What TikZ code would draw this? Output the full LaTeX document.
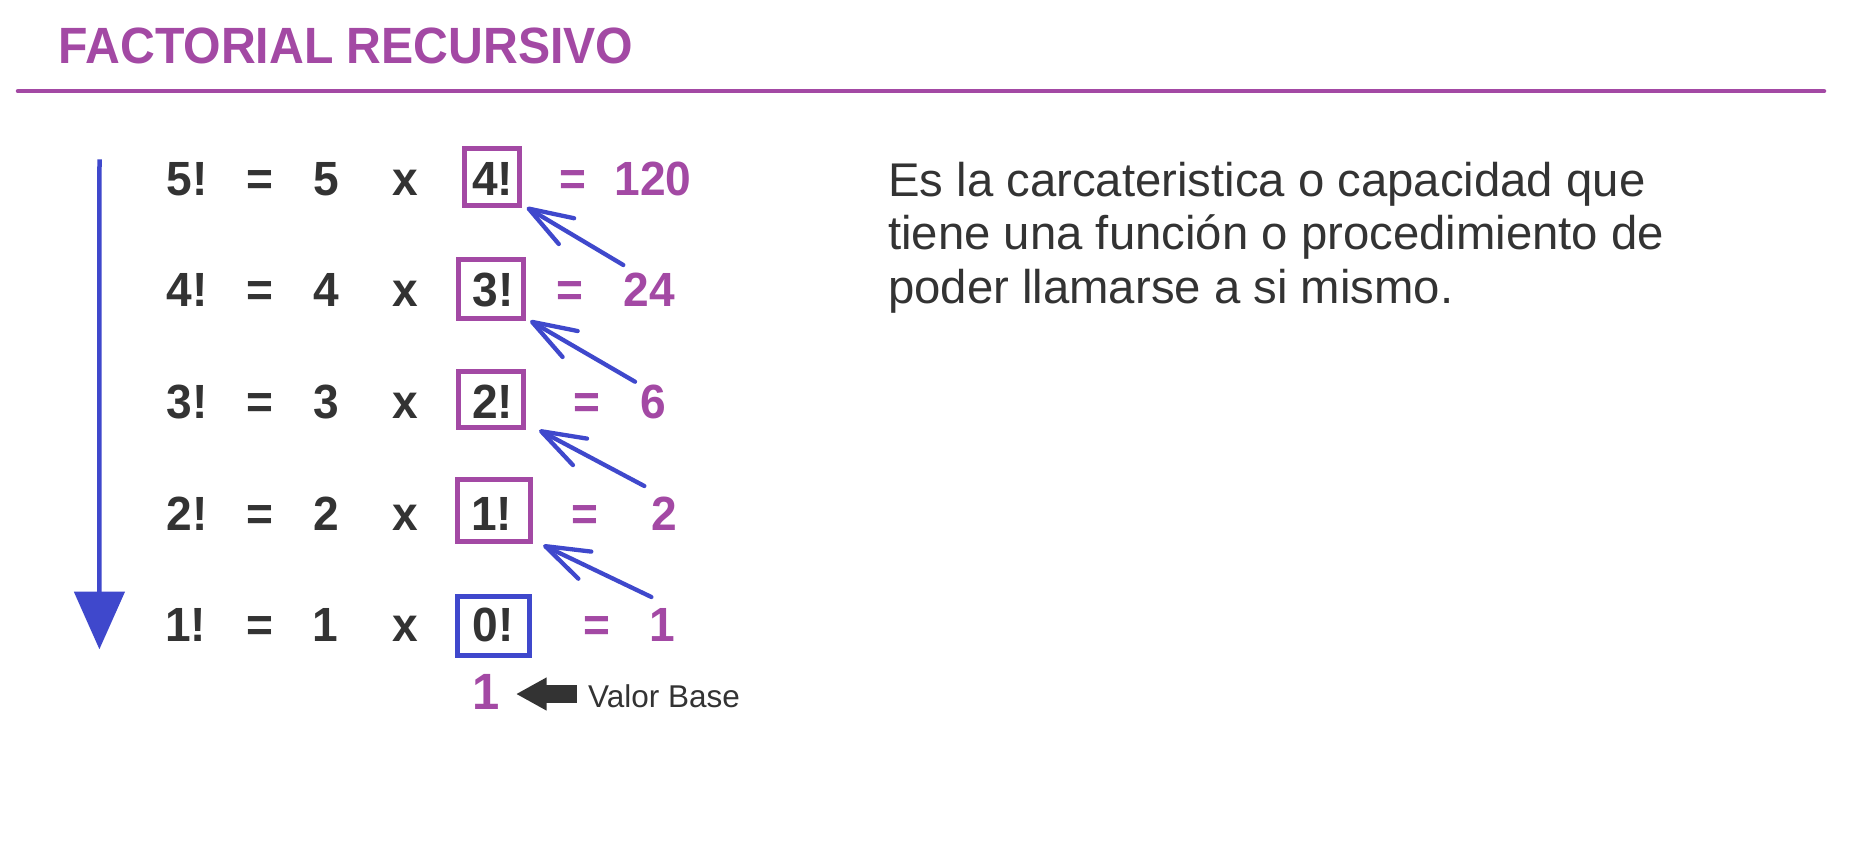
\documentclass[tikz,border=0pt]{standalone}
\usepackage{fontspec}
\setmainfont{Liberation Sans}
\newfontfamily\eqfont[FakeStretch=0.96]{Liberation Sans}
\newfontfamily\ttlfont[FakeStretch=0.945]{Liberation Sans}
\usetikzlibrary{arrows.meta}
\definecolor{ttlpurple}{HTML}{A349A4}
\definecolor{arrblue}{HTML}{3F48CC}
\definecolor{txtdark}{HTML}{333333}
\begin{document}
\begin{tikzpicture}[x=1pt,y=-1pt,
  eqtxt/.style={inner sep=0pt, anchor=base, text=txtdark, font=\eqfont\fontsize{48}{48}\selectfont\bfseries},
  restxt/.style={eqtxt, text=ttlpurple},
  boxp/.style={draw=ttlpurple, line width=5pt, inner sep=0pt},
  boxb/.style={boxp, draw=arrblue},
  bodytxt/.style={inner sep=0pt, anchor=base west, text=txtdark, font=\fontsize{47.3}{47.3}\selectfont},
  recarrow/.style={draw=arrblue, line width=4.3pt, line cap=round, -{Straight Barb[length=44pt,width=30pt,round]}}
]
\fill[white] (0,0) rectangle (1851,849);
\useasboundingbox (0,0) rectangle (1851,849);

% title and rule
\node[inner sep=0pt, anchor=base west, text=ttlpurple, font=\ttlfont\fontsize{51}{51}\selectfont\bfseries] (title) at (58.5,63.3) {FACTORIAL RECURSIVO};
\coordinate (ruleL) at (18,91.2);
\coordinate (ruleR) at (1824,91.2);
\draw[ttlpurple, line width=4.5pt, line cap=round] (ruleL) -- (ruleR);

% row 1
\node[eqtxt] (r1a) at (187,195) {5!};
\node[eqtxt] (r1b) at (260,195) {=};
\node[eqtxt] (r1c) at (326.7,195) {5};
\node[eqtxt] (r1d) at (405,195) {x};
\node[boxp, minimum width=55pt, minimum height=57.3pt] (b1) at (491.7,177.2) {};
\node[eqtxt] (r1e) at (492.5,195) {4!};
\node[restxt] (r1f) at (572.5,195) {=};
\node[restxt] (r1g) at (653,195) {120};

% row 2
\node[eqtxt] (r2a) at (187,306.7) {4!};
\node[eqtxt] (r2b) at (260,306.7) {=};
\node[eqtxt] (r2c) at (326.7,306.7) {4};
\node[eqtxt] (r2d) at (405,306.7) {x};
\node[boxp, minimum width=64.7pt, minimum height=58.4pt] (b2) at (490.9,289) {};
\node[eqtxt] (r2e) at (493,306.7) {3!};
\node[restxt] (r2f) at (570,306.7) {=};
\node[restxt] (r2g) at (649.2,306.7) {24};

% row 3
\node[eqtxt] (r3a) at (187,418.4) {3!};
\node[eqtxt] (r3b) at (260,418.4) {=};
\node[eqtxt] (r3c) at (326.7,418.4) {3};
\node[eqtxt] (r3d) at (405,418.4) {x};
\node[boxp, minimum width=65pt, minimum height=55.7pt] (b3) at (491,399.7) {};
\node[eqtxt] (r3e) at (492.5,418.4) {2!};
\node[restxt] (r3f) at (587,418.4) {=};
\node[restxt] (r3g) at (653.3,418.4) {6};

% row 4
\node[eqtxt] (r4a) at (187,530.1) {2!};
\node[eqtxt] (r4b) at (260,530.1) {=};
\node[eqtxt] (r4c) at (326.7,530.1) {2};
\node[eqtxt] (r4d) at (405,530.1) {x};
\node[boxp, minimum width=72.7pt, minimum height=62pt] (b4) at (493.9,510.8) {};
\node[eqtxt] (r4e) at (491.7,530.1) {1!};
\node[restxt] (r4f) at (585.3,530.1) {=};
\node[restxt] (r4g) at (664.5,530.1) {2};

% row 5
\node[eqtxt] (r5a) at (185.7,641.8) {1!};
\node[eqtxt] (r5b) at (260,641.8) {=};
\node[eqtxt] (r5c) at (325.5,641.8) {1};
\node[eqtxt] (r5d) at (405.5,641.8) {x};
\node[boxb, minimum width=71.7pt, minimum height=59.3pt] (b5) at (493.4,626.2) {};
\node[eqtxt] (r5e) at (493.4,641.8) {0!};
\node[restxt] (r5f) at (596.7,641.8) {=};
\node[restxt] (r5g) at (662.3,641.8) {1};

% base value
\node[restxt, font=\eqfont\fontsize{51}{51}\selectfont\bfseries] (base1) at (486.6,709.3) {1};
\node[inner sep=0pt, anchor=base west, text=txtdark, font=\fontsize{31.5}{31.5}\selectfont] (valor) at (588,707.7) {Valor Base};
\coordinate (vbS) at (576.7,694);
\coordinate (vbT) at (516,694);
\draw[txtdark, line width=17.7pt, -{Triangle[length=30.7pt,width=31pt]}] (vbS) -- (vbT);

% recursion direction arrow
\coordinate (vTop) at (99.5,159.3);
\coordinate (vBot) at (99.4,649.3);
\draw[arrblue, line width=4.5pt, -{Triangle[length=57.6pt,width=50pt]}] (vTop) -- (vBot);

% return arrows
\coordinate (s1) at (623.3,265);
\coordinate (s2) at (635,381.7);
\coordinate (s3) at (644.3,486);
\coordinate (s4) at (651.4,597);
\draw[recarrow] (s1) -- ([shift={(5.1,-0.85)}]b1.south east);
\draw[recarrow] (s2) -- ([shift={(4.45,0.1)}]b2.south east);
\draw[recarrow] (s3) -- ([shift={(13.2,0.15)}]b3.south east);
\draw[recarrow] (s4) -- ([shift={(10.45,0.9)}]b4.south east);

% description
\node[bodytxt] (d1) at (888,196) {Es la carcateristica o capacidad que};
\node[bodytxt] (d2) at (888,249.5) {tiene una función o procedimiento de};
\node[bodytxt] (d3) at (888,303) {poder llamarse a si mismo.};
\end{tikzpicture}
\end{document}
